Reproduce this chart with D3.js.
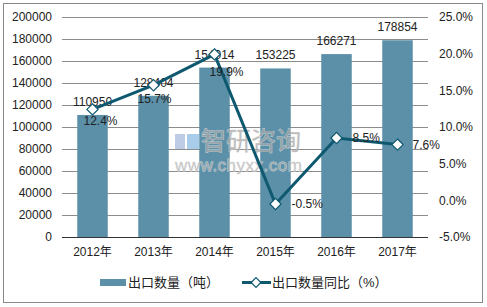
<!DOCTYPE html>
<html>
<head>
<meta charset="utf-8">
<script src="https://cdn.jsdelivr.net/npm/d3@7"></script>
<style>
    body { margin: 0; background: #fff; }
    text { font-family: "Liberation Sans", Arial, "Noto Sans CJK SC", sans-serif; }
</style>
</head>
<body>
<div id="chart"></div>
<script>
// Export volume chart, 2012-2017

const years = ["2012年", "2013年", "2014年", "2015年", "2016年", "2017年"];
const volume = [110950, 128404, 154014, 153225, 166271, 178854];
const growth = [12.4, 15.7, 19.9, -0.5, 8.5, 7.6];
const leftTicks = [0, 20000, 40000, 60000, 80000, 100000, 120000, 140000, 160000, 180000, 200000];
const rightTicks = [-5, 0, 5, 10, 15, 20, 25];

const width = 487;
const height = 307;
const margin = { top: 17, right: 60, bottom: 70, left: 62 };

const barColor = "#5b90a8";
const lineColor = "#0e5870";

const svg = d3.select("#chart")
    .append("svg")
    .attr("width", width)
    .attr("height", height);

// outer frame
svg.append("rect")
    .attr("x", 3.5).attr("y", 3.5)
    .attr("width", 479).attr("height", 299)
    .attr("fill", "#fff")
    .attr("stroke", "#888");

const x = d3.scaleBand()
    .domain(years)
    .range([margin.left, width - margin.right + 1])
    .paddingInner(0.5)
    .paddingOuter(0.25);

const y = d3.scaleLinear()
    .domain([0, 200000])
    .range([height - margin.bottom, margin.top]);

const y2 = d3.scaleLinear()
    .domain([-5, 25])
    .range([height - margin.bottom, margin.top]);

// grid lines
svg.append("g")
    .selectAll("line")
    .data(leftTicks.slice(1))
    .enter()
    .append("line")
    .attr("x1", margin.left)
    .attr("x2", width - margin.right + 1)
    .attr("y1", d => Math.round(y(d)) + 0.5)
    .attr("y2", d => Math.round(y(d)) + 0.5)
    .attr("stroke", "#8c8c8c")
    .attr("stroke-width", 1);

// left axis
const leftAxis = svg.append("g")
    .attr("transform", `translate(${margin.left},0)`)
    .call(d3.axisLeft(y).tickValues(leftTicks).tickSize(0).tickPadding(10).tickFormat(d3.format("d")));
leftAxis.select(".domain").remove();
leftAxis.selectAll("text").attr("font-size", 12).attr("fill", "#222");

// right axis
const rightAxis = svg.append("g")
    .attr("transform", `translate(${width - margin.right + 1},0)`)
    .call(d3.axisRight(y2).tickValues(rightTicks).tickSize(0).tickPadding(11).tickFormat(d => d.toFixed(1) + "%"));
rightAxis.select(".domain").remove();
rightAxis.selectAll("text").attr("font-size", 12).attr("fill", "#222");

// bottom axis
const bottomAxis = svg.append("g")
    .attr("transform", `translate(0,${y(0)})`)
    .call(d3.axisBottom(x).tickSize(0).tickPadding(10));
bottomAxis.select(".domain").remove();
bottomAxis.selectAll("text").attr("font-size", 12).attr("fill", "#222");

// bars
svg.selectAll(".bar")
    .data(volume)
    .enter()
    .append("rect")
    .attr("class", "bar")
    .attr("x", (d, i) => x(years[i]))
    .attr("y", d => y(d))
    .attr("width", x.bandwidth())
    .attr("height", d => y(0) - y(d))
    .attr("fill", barColor);

// zero line
svg.append("line")
    .attr("x1", margin.left)
    .attr("x2", width - margin.right + 1)
    .attr("y1", Math.round(y(0)) + 0.5)
    .attr("y2", Math.round(y(0)) + 0.5)
    .attr("stroke", "#333");

// watermark (sits over the bars)
const wm = svg.append("g").attr("opacity", 0.75);
wm.append("rect").attr("x", 175).attr("y", 134).attr("width", 10).attr("height", 15).attr("fill", "#a9bddd");
wm.append("rect").attr("x", 187).attr("y", 134).attr("width", 12).attr("height", 15).attr("fill", "#8cbbe3");
wm.append("text")
    .attr("x", 201).attr("y", 150)
    .attr("font-size", 25)
    .attr("fill", "#a8a8a8")
    .attr("stroke", "#e8e8e8")
    .attr("stroke-width", 0.8)
    .attr("paint-order", "stroke")
    .text("智研咨询");
wm.append("text")
    .attr("x", 175).attr("y", 171)
    .attr("font-size", 17)
    .attr("fill", "#b4b4b4")
    .attr("stroke", "#e8e8e8")
    .attr("stroke-width", 0.8)
    .attr("paint-order", "stroke")
    .attr("letter-spacing", 0.5)
    .text("www.chyxx.com");

// bar value labels
svg.selectAll(".barLabel")
    .data(volume)
    .enter()
    .append("text")
    .attr("class", "barLabel")
    .attr("x", (d, i) => x(years[i]) + x.bandwidth() / 2)
    .attr("y", d => y(d) - 9)
    .attr("text-anchor", "middle")
    .attr("font-size", 12)
    .attr("fill", "#222")
    .text(d => d);

// growth line
const cx = (d, i) => x(years[i]) + x.bandwidth() / 2;
const line = d3.line()
    .x((d, i) => cx(d, i))
    .y(d => y2(d));

svg.append("path")
    .datum(growth)
    .attr("d", line)
    .attr("fill", "none")
    .attr("stroke", lineColor)
    .attr("stroke-width", 3);

svg.selectAll(".marker")
    .data(growth)
    .enter()
    .append("path")
    .attr("class", "marker")
    .attr("d", d3.symbol().type(d3.symbolDiamond2).size(80))
    .attr("transform", (d, i) => `translate(${cx(d, i)},${y2(d)})`)
    .attr("fill", "#fff")
    .attr("stroke", lineColor)
    .attr("stroke-width", 1.2);

// label offsets (Excel placed the first three labels below the points)
const labelDx = [-9, -16, -5, 16, 16, 15];
const labelDy = [16, 18, 22, 4, 4, 4];

svg.selectAll(".lineLabel")
    .data(growth)
    .enter()
    .append("text")
    .attr("class", "lineLabel")
    .attr("x", (d, i) => cx(d, i) + labelDx[i])
    .attr("y", (d, i) => y2(d) + labelDy[i])
    .attr("font-size", 12)
    .attr("fill", "#222")
    .text(d => d.toFixed(1) + "%");

// legend
const legend = svg.append("g");
legend.append("rect")
    .attr("x", 100).attr("y", 279)
    .attr("width", 26).attr("height", 7)
    .attr("fill", barColor);
legend.append("text")
    .attr("x", 128).attr("y", 287)
    .attr("font-size", 13)
    .attr("fill", "#222")
    .text("出口数量（吨）");
legend.append("line")
    .attr("x1", 242).attr("x2", 271)
    .attr("y1", 282.5).attr("y2", 282.5)
    .attr("stroke", lineColor)
    .attr("stroke-width", 3);
legend.append("path")
    .attr("d", d3.symbol().type(d3.symbolDiamond2).size(60))
    .attr("transform", "translate(256,282.5)")
    .attr("fill", "#fff")
    .attr("stroke", lineColor)
    .attr("stroke-width", 1.2);
legend.append("text")
    .attr("x", 272).attr("y", 287)
    .attr("font-size", 13)
    .attr("fill", "#222")
    .text("出口数量同比（%）");
</script>
</body>
</html>
